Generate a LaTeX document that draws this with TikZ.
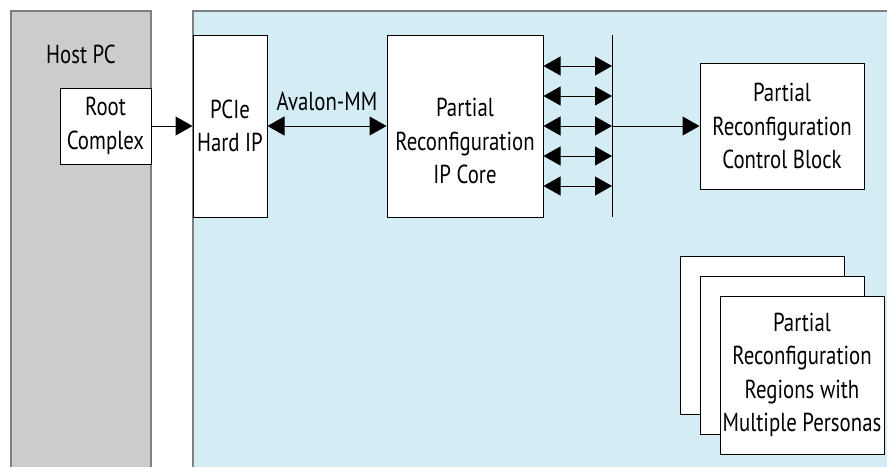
\documentclass[tikz,border=0pt]{standalone}
\usepackage{fontspec}
\setmainfont{PT Sans}[FakeStretch=0.8]
\usetikzlibrary{arrows.meta}
\definecolor{hostgray}{HTML}{CCCCCC}
\definecolor{fpgablue}{HTML}{D4ECF3}
\definecolor{edgegray}{HTML}{7F7F7F}
\tikzset{
  box/.style={draw=black, line width=1pt, fill=white, align=center, inner sep=0pt,
    font=\fontsize{26}{33.5}\selectfont},
  arr/.style={line width=1pt, -{Triangle[length=17pt,width=19pt]}},
  darr/.style={line width=1pt, {Triangle[length=17pt,width=19pt]}-{Triangle[length=17pt,width=19pt]}},
  lbl/.style={font=\fontsize{26}{33.5}\selectfont, inner sep=0pt, align=center},
}
\begin{document}
\begin{tikzpicture}[x=1pt,y=-1pt]
\useasboundingbox (0,0) rectangle (887,467);
% regions
\fill[hostgray] (11,11) rectangle (151,467);
\draw[edgegray, line width=2pt] (11,467) -- (11,11) -- (151,11) -- (151,467);
\fill[fpgablue] (193,11) rectangle (887,467);
\draw[edgegray, line width=2pt] (193,467) -- (193,11) -- (887,11);
\node[lbl, anchor=base] (host) at (81,63) {Host PC};
% blocks
\node[box, minimum width=91pt, minimum height=76pt] (rc) at (105.5,126) {Root\\Complex};
\node[box, minimum width=74pt, minimum height=182pt] (pcie) at (230,126) {PCIe\\Hard IP};
\node[box, minimum width=156pt, minimum height=182pt] (core) at (465,126) {};
\node[lbl] (coretxt) at (465,141) {Partial\\Reconfiguration\\IP Core};
\node[box, minimum width=164pt, minimum height=126pt] (ctrl) at (782,126) {Partial\\Reconfiguration\\Control Block};
\node[box, minimum width=164pt, minimum height=158pt] (pr1) at (762,335) {};
\node[box, minimum width=164pt, minimum height=158pt] (pr2) at (782,355) {};
\node[box, minimum width=164pt, minimum height=158pt] (pr3) at (802,375) {Partial\\Reconfiguration\\Regions with\\Multiple Personas};
% bus
\coordinate (bustop) at (612,35);
\coordinate (busbot) at (612,217);
\draw[line width=1pt] (bustop) -- (busbot);
\foreach \i/\y in {1/66,2/96,3/126,4/156,5/186}{
  \coordinate (b\i) at (612,\y);
  \draw[darr] (b\i -| core.east) -- (b\i);
}
% connectors
\draw[arr] (rc.east) -- (pcie.west);
\draw[darr] (pcie.east) -- node[lbl, anchor=base, yshift=16pt] (avl) {Avalon-MM} (core.west);
\draw[arr] (b3) -- (ctrl.west);
\end{tikzpicture}
\end{document}
